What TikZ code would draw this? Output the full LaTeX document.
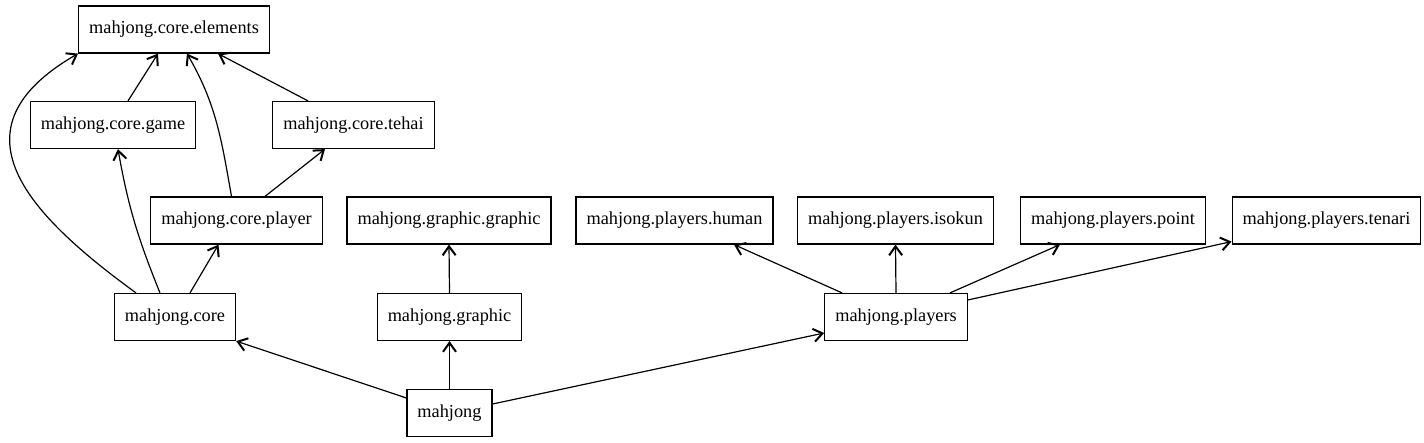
\documentclass[tikz,border=0pt]{standalone}
\usepackage{fontspec}
\setmainfont{Liberation Serif}
\newfontfamily\pkgfont{Liberation Serif}
\usetikzlibrary{arrows.meta}
\tikzset{
  pkg/.style={draw, line width=1.2pt, inner xsep=10.5pt, inner ysep=0pt, minimum height=47pt,
    font=\pkgfont\fontsize{18.3}{22}\selectfont},
  dep/.style={line width=1.2pt, -{Straight Barb[length=9pt,width=13pt,line width=2pt]}}
}
\begin{document}
\begin{tikzpicture}[x=1pt,y=1pt]
\useasboundingbox (0,0) rectangle (1424,-443);
\node[pkg] (elements) at (174,-29.5) {mahjong.core.elements};
\node[pkg] (game) at (113,-125) {mahjong.core.game};
\node[pkg] (tehai) at (353.5,-125) {mahjong.core.tehai};
\node[pkg] (player) at (236.5,-220.5) {mahjong.core.player};
\node[pkg] (ggraphic) at (449,-220.5) {mahjong.graphic.graphic};
\node[pkg] (human) at (674.5,-220.5) {mahjong.players.human};
\node[pkg] (isokun) at (895.5,-220.5) {mahjong.players.isokun};
\node[pkg] (point) at (1113,-220.5) {mahjong.players.point};
\node[pkg] (tenari) at (1326.5,-220.5) {mahjong.players.tenari};
\node[pkg] (core) at (175,-317) {mahjong.core};
\node[pkg] (graphic) at (449.5,-317) {mahjong.graphic};
\node[pkg] (players) at (896,-317) {mahjong.players};
\node[pkg] (mahjong) at (449.5,-413) {mahjong};

\draw[dep] ([yshift=15pt]mahjong.west) -- (core.south east);
\draw[dep] (mahjong.north) -- (graphic.south);
\draw[dep] ([yshift=9pt]mahjong.east) -- ([yshift=-16pt]players.west);
\draw[dep] (graphic.north) -- (ggraphic.south);
\draw[dep] ([xshift=15pt]core.north) -- ([xshift=-18pt]player.south);
\draw[dep] ([xshift=-15pt]core.north) to[out=112,in=-80] ([xshift=5pt]game.south);
\draw[dep] ([xshift=-39pt]core.north) .. controls +(-110,80) and +(-130,-75) .. (elements.south west);
\draw[dep] ([xshift=-5pt]player.north) to[out=100,in=-60] ([xshift=13pt]elements.south);
\draw[dep] ([xshift=28.5pt]player.north) -- ([xshift=-28.5pt]tehai.south);
\draw[dep] ([xshift=15pt]game.north) -- ([xshift=-16pt]elements.south);
\draw[dep] ([xshift=-45.5pt]tehai.north) -- ([xshift=44pt]elements.south);
\draw[dep] ([xshift=-54pt]players.north) -- ([xshift=59.5pt]human.south);
\draw[dep] (players.north) -- (isokun.south);
\draw[dep] ([xshift=54pt]players.north) -- ([xshift=-53pt]point.south);
\draw[dep] ([yshift=17pt]players.east) -- ([yshift=3pt]tenari.south west);
\end{tikzpicture}
\end{document}
